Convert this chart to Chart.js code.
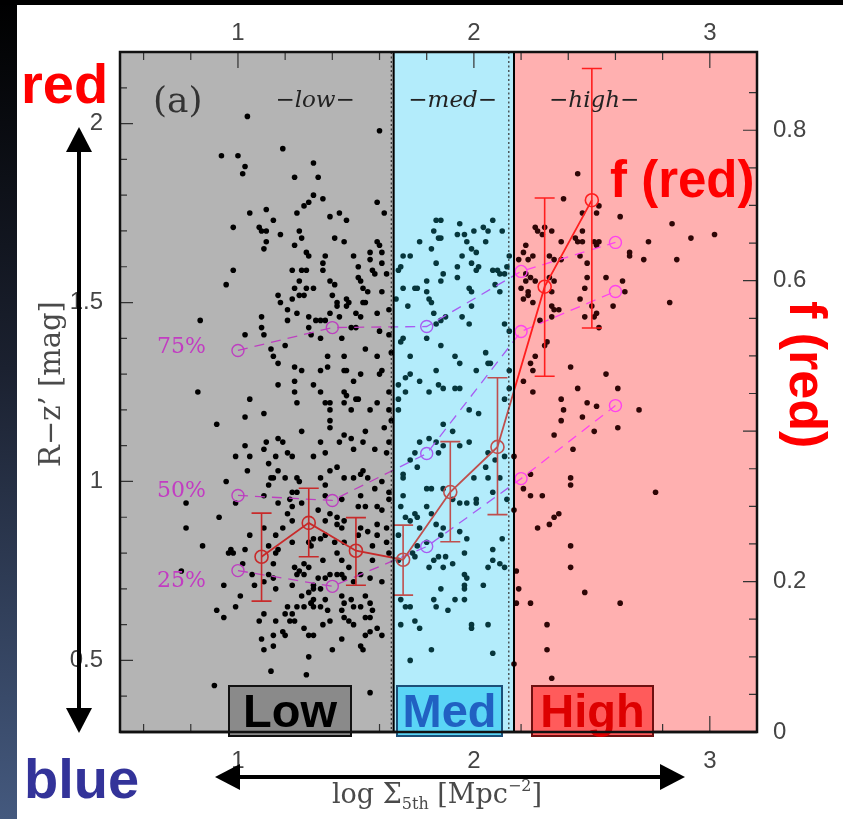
<!DOCTYPE html>
<html>
<head>
<meta charset="utf-8">
<script src="https://cdn.jsdelivr.net/npm/chart.js@4.4.1/dist/chart.umd.min.js"></script>
<style>
  html, body { margin: 0; padding: 0; background: #fff; }
  #app { display: block; }
</style>
</head>
<body>
<canvas id="app" width="843" height="819"></canvas>
<script>
// galaxies: [log Sigma_5th, R-z'], split by density bin
const lowGalaxies = [
  [1.04,2.02],[1.60,1.98],
  [0.93,1.91],[1.00,1.91],[1.19,1.93],[1.03,1.88],[1.02,1.86],[1.32,1.89],[1.24,1.85],[1.32,1.80],[1.30,1.78],[1.28,1.77],
  [1.25,1.75],[1.05,1.75],[1.12,1.76],[1.15,1.73],[0.98,1.71],[1.09,1.71],[1.10,1.70],[1.12,1.70],[1.12,1.67],[1.11,1.65],
  [1.18,1.69],[1.24,1.66],[1.26,1.70],[1.27,1.68],[1.29,1.64],[1.30,1.63],[0.98,1.59],[0.95,1.55],[1.23,1.59],[1.27,1.59],
  [1.29,1.59],[1.26,1.56],[1.24,1.54],[1.29,1.54],[1.32,1.54],[1.17,1.52],[1.18,1.50],[1.23,1.51],[1.26,1.52],[1.28,1.52],
  [1.21,1.48],[1.25,1.47],[1.21,1.45],[1.10,1.46],[1.10,1.43],[1.11,1.41],[1.30,1.46],[1.30,1.43],[1.31,1.41],[0.84,1.45],
  [1.03,1.41],[1.14,1.37],[1.15,1.35],[1.20,1.38],[1.17,1.33],[1.17,1.27],[1.24,1.32],[1.27,1.31],[1.24,1.28],[1.24,1.25],
  [1.25,1.22],[1.32,1.27],[0.83,1.25],[1.05,1.23],[1.11,1.19],[1.03,1.18],[0.91,1.16],
  [1.34,1.85],[1.36,1.79],[1.59,1.78],[1.62,1.75],[1.39,1.74],[1.43,1.75],[1.46,1.73],[1.41,1.68],[1.45,1.67],[1.59,1.67],
  [1.60,1.66],[1.49,1.63],[1.56,1.64],[1.61,1.64],[1.37,1.63],[1.36,1.61],[1.36,1.59],[1.51,1.60],[1.57,1.59],[1.58,1.58],
  [1.61,1.61],[1.56,1.62],[1.51,1.57],[1.52,1.56],[1.63,1.58],[1.39,1.56],[1.41,1.55],[1.40,1.52],[1.53,1.54],[1.55,1.53],
  [1.61,1.53],[1.46,1.51],[1.42,1.50],[1.42,1.49],[1.46,1.49],[1.47,1.50],[1.53,1.50],[1.54,1.50],[1.59,1.47],[1.64,1.48],
  [1.50,1.47],[1.52,1.46],[1.39,1.47],[1.43,1.46],[1.33,1.45],[1.35,1.45],[1.37,1.45],[1.48,1.43],[1.50,1.43],[1.44,1.40],
  [1.35,1.40],[1.64,1.41],[1.54,1.37],[1.60,1.42],[1.38,1.35],[1.45,1.35],[1.59,1.35],[1.65,1.36],[1.38,1.32],[1.35,1.31],
  [1.45,1.31],[1.46,1.31],[1.52,1.30],[1.61,1.31],[1.60,1.30],[1.49,1.28],[1.35,1.25],[1.45,1.25],[1.46,1.24],[1.64,1.25],
  [1.45,1.22],[1.50,1.23],[1.51,1.23],[1.37,1.22],[1.39,1.22],[1.39,1.20],[1.48,1.20],[1.56,1.20],[1.59,1.22],[1.64,1.20],
  [1.39,1.17],[1.65,1.17],
  [1.27,1.14],[1.17,1.12],[1.19,1.11],[1.12,1.11],[1.03,1.10],[1.11,1.09],[1.16,1.07],[1.21,1.08],[1.23,1.07],[0.99,1.07],
  [1.05,1.07],[1.13,1.05],[1.32,1.07],[1.04,1.03],[1.17,1.03],[1.15,1.01],[1.14,1.01],[1.20,1.01],[1.25,1.01],[1.26,1.00],
  [1.13,0.99],[0.95,1.00],[1.23,0.97],[1.25,0.97],[1.11,0.96],[1.22,0.95],[1.27,0.94],[1.23,0.93],[0.99,0.94],[0.78,0.94],
  [0.92,0.90],[1.17,0.94],[1.21,0.91],[1.23,0.89],[0.78,0.87],[1.11,0.87],[1.16,0.85],[1.19,0.87],[1.23,0.83],[1.05,0.85],
  [0.85,0.82],[0.97,0.81],[0.96,0.80],[0.98,0.80],[1.03,0.81],[1.13,0.82],[1.16,0.80],[1.17,0.81],[1.30,0.83],[1.32,0.84],
  [1.02,0.77],[1.06,0.74],[1.15,0.77],[1.13,0.74],[1.15,0.73],[1.16,0.70],[1.07,0.71],[1.11,0.72],[1.24,0.76],[1.26,0.75],
  [1.28,0.77],[1.30,0.76],[1.25,0.74],[1.28,0.74],[1.32,0.71],[1.23,0.71],[1.27,0.68],[1.30,0.69],[1.32,0.67],[1.31,0.66],
  [1.28,0.65],[1.25,0.65],[0.94,0.71],[1.01,0.68],[0.99,0.65],[0.91,0.64],[0.94,0.62],[1.09,0.61],[1.11,0.63],[1.21,0.65],
  [1.20,0.63],[1.22,0.61],[1.24,0.61],[1.23,0.63],[1.16,0.61],[1.28,0.59],[1.30,0.57],[1.10,0.56],[1.15,0.57],[1.19,0.58],
  [1.20,0.57],[1.15,0.54],[1.11,0.53],[1.30,0.51],[1.14,0.47],[1.29,0.46],[0.90,0.43],[0.76,0.75],
  [1.39,1.15],[1.45,1.13],[1.54,1.14],[1.62,1.15],[1.35,1.11],[1.43,1.11],[1.48,1.12],[1.53,1.11],[1.64,1.11],[1.37,1.08],
  [1.49,1.09],[1.58,1.09],[1.63,1.08],[1.42,1.04],[1.39,1.03],[1.53,1.03],[1.52,1.02],[1.55,1.01],[1.49,1.01],[1.45,1.01],
  [1.35,1.01],[1.61,1.00],[1.64,0.97],[1.37,0.99],[1.58,0.98],[1.37,0.96],[1.44,0.95],[1.52,0.96],[1.51,0.93],[1.54,0.93],
  [1.59,0.93],[1.61,0.92],[1.34,0.92],[1.39,0.91],[1.42,0.90],[1.64,0.95],[1.37,0.89],[1.45,0.89],[1.59,0.88],[1.42,0.88],
  [1.52,0.87],[1.63,0.87],[1.44,0.87],[1.55,0.86],[1.37,0.85],[1.35,0.84],[1.41,0.83],[1.45,0.83],[1.42,0.80],[1.51,0.85],
  [1.59,0.85],[1.57,0.82],[1.63,0.83],[1.64,0.80],[1.31,0.82],[1.36,0.78],[1.44,0.78],[1.47,0.76],[1.57,0.78],[1.44,0.74],
  [1.42,0.74],[1.34,0.73],[1.37,0.73],[1.39,0.74],[1.45,0.73],[1.49,0.72],[1.56,0.73],[1.61,0.72],[1.52,0.74],[1.32,0.70],
  [1.35,0.70],[1.37,0.67],[1.31,0.66],[1.32,0.65],[1.35,0.65],[1.44,0.68],[1.45,0.66],[1.48,0.67],[1.54,0.68],[1.56,0.66],
  [1.57,0.64],[1.44,0.64],[1.45,0.62],[1.47,0.61],[1.49,0.65],[1.52,0.65],[1.54,0.62],[1.56,0.62],[1.38,0.64],[1.39,0.61],
  [1.36,0.60],[1.59,0.59],[1.56,0.58],[1.61,0.57],[1.54,0.57],[1.52,0.54],[1.53,0.53],[1.44,0.56],[1.32,0.57],[1.40,0.53],
  [1.56,0.41],[1.49,0.60]
]
const medGalaxies = [
  [1.84,1.73],[1.86,1.73],[1.83,1.70],[1.85,1.68],[1.86,1.68],[1.77,1.67],[1.82,1.65],[1.70,1.63],[1.73,1.63],[1.69,1.60],
  [1.68,1.59],[1.84,1.61],[1.87,1.58],[1.86,1.56],[1.80,1.56],[1.70,1.54],[1.75,1.54],[1.76,1.54],[1.80,1.53],[1.81,1.51],
  [1.82,1.50],[1.83,1.47],[1.72,1.49],[1.67,1.51],[1.88,1.46],[1.86,1.45],[1.84,1.44],[1.80,1.40],[1.70,1.40],[1.69,1.39],
  [1.86,1.38],[1.73,1.35],[1.73,1.30],[1.71,1.29],[1.77,1.28],[1.84,1.31],[1.85,1.27],[1.87,1.26],[1.68,1.27],[1.71,1.25],
  [1.81,1.25],[1.68,1.23],[1.68,1.20],[1.87,1.16],
  [1.94,1.72],[1.93,1.69],[1.96,1.69],[1.97,1.67],[2.00,1.70],[2.04,1.71],[2.06,1.70],[2.05,1.67],[2.08,1.73],[2.12,1.70],
  [1.99,1.65],[2.01,1.64],[1.95,1.63],[1.99,1.61],[1.93,1.60],[1.93,1.57],[2.02,1.60],[2.01,1.59],[2.08,1.59],[2.10,1.59],
  [2.11,1.58],[2.13,1.58],[2.15,1.63],[2.14,1.60],[1.98,1.54],[1.99,1.53],[2.11,1.53],[2.09,1.55],[1.99,1.49],[1.95,1.46],
  [1.98,1.44],[2.13,1.44],[2.15,1.42],[1.92,1.35],[1.94,1.33],[2.05,1.36],[2.06,1.33],[2.07,1.33],[2.01,1.31],[2.15,1.31],
  [1.92,1.26],[1.94,1.26],[1.98,1.20],[2.02,1.19],[2.13,1.23],[2.15,1.26],
  [1.77,1.11],[1.81,1.12],[1.84,1.11],[1.87,1.10],[1.85,1.08],[1.75,1.08],[1.73,1.06],[1.76,1.04],[1.70,1.02],[1.70,1.01],
  [1.80,0.98],[1.82,0.98],[1.87,0.98],[1.70,0.96],[1.69,0.93],[1.75,0.91],[1.76,0.90],[1.80,0.93],[1.82,0.91],[1.71,0.90],
  [1.73,0.89],[1.77,0.87],[1.84,0.88],[1.87,0.87],[1.86,0.85],[1.68,0.85],[1.76,0.82],[1.80,0.83],[1.74,0.80],[1.75,0.79],
  [1.83,0.78],[1.85,0.79],[1.87,0.76],[1.81,0.76],[1.68,0.78],[1.86,0.70],[1.83,0.67],[1.84,0.65],[1.73,0.65],[1.71,0.65],
  [1.69,0.67],[1.75,0.61],[1.77,0.59],[1.69,0.60],[1.82,0.53],[1.73,0.50],
  [1.91,1.14],[1.94,1.10],[1.98,1.11],[2.06,1.08],[2.09,1.06],[2.13,1.07],[2.05,1.04],[2.00,1.01],[2.06,1.01],[2.11,1.01],
  [2.08,0.97],[2.14,0.95],[1.91,0.95],[1.94,0.94],[1.97,0.94],[2.01,0.95],[2.01,0.94],[1.94,0.86],[1.97,0.84],[1.96,0.80],
  [1.91,0.77],[2.08,0.81],[2.08,0.78],[2.06,0.76],[2.11,0.77],[2.13,0.76],[2.12,0.84],[1.96,0.74],[1.97,0.73],[1.96,0.71],
  [1.96,0.70],[2.04,0.71],[1.92,0.67],[1.96,0.67],[1.89,0.64],[2.06,0.60],[1.99,0.60],[1.99,0.59],[2.08,0.52],[1.88,0.79]
]
const highGalaxies = [
  [2.44,1.86],[2.38,1.79],[2.46,1.75],[2.26,1.71],[2.27,1.70],[2.30,1.71],[2.33,1.70],[2.29,1.69],[2.37,1.67],[2.43,1.68],
  [2.44,1.67],[2.46,1.67],[2.22,1.66],[2.21,1.64],[2.19,1.62],[2.23,1.62],[2.25,1.63],[2.32,1.63],[2.34,1.62],[2.37,1.62],
  [2.22,1.58],[2.24,1.57],[2.22,1.56],[2.26,1.56],[2.32,1.57],[2.34,1.56],[2.20,1.54],[2.23,1.53],[2.21,1.51],[2.23,1.52],
  [2.25,1.50],[2.33,1.53],[2.33,1.49],[2.34,1.48],[2.36,1.48],[2.28,1.45],[2.33,1.46],[2.31,1.39],[2.26,1.35],[2.24,1.33],
  [2.25,1.31],[2.30,1.38],[2.41,1.32],[2.21,1.28],[2.25,1.25],[2.37,1.23],[2.38,1.20],[2.44,1.26],[2.37,1.17],[2.46,1.18],
  [2.52,1.75],[2.53,1.77],[2.62,1.74],[2.46,1.70],[2.51,1.67],[2.53,1.67],[2.52,1.66],[2.48,1.61],[2.45,1.63],[2.48,1.57],
  [2.47,1.54],[2.56,1.57],[2.63,1.56],[2.64,1.53],[2.59,1.49],[2.45,1.51],[2.50,1.49],[2.47,1.46],[2.51,1.46],[2.52,1.47],
  [2.53,1.43],[2.66,1.64],[2.66,1.63],[2.74,1.67],[2.72,1.62],[2.84,1.72],[2.86,1.62],[2.92,1.68],[3.02,1.69],[2.83,1.50],
  [2.56,1.30],[2.61,1.26],[2.48,1.22],[2.52,1.21],[2.70,1.20],[2.61,1.15],
  [2.34,1.13],[2.42,1.09],[2.24,1.02],[2.41,1.01],[2.41,0.99],[2.21,0.98],[2.24,0.96],[2.29,0.96],[2.36,0.91],[2.34,0.90],
  [2.32,0.88],[2.27,0.87],[2.41,0.82],[2.41,0.76],[2.18,0.75],[2.19,0.70],[2.18,0.66],[2.24,0.66],[2.31,0.60],[2.31,0.53],
  [2.33,0.45],[2.17,0.92],[2.17,1.07],[2.17,0.49],
  [2.51,1.14],[2.77,0.97],[2.47,0.69],[2.62,0.66]
]

// colour percentiles (left axis)
const percentileX = [1.0, 1.4, 1.8, 2.2, 2.6]
const p75 = [1.366, 1.430, 1.433, 1.587, 1.668]
const p50 = [0.961, 0.947, 1.078, 1.419, 1.531]
const p25 = [0.751, 0.707, 0.818, 1.008, 1.212]
const percentileNames = ['75%', '50%', '25%']
const percentileLabelY = [1.374, 0.972, 0.721]

// red fraction with errors (right axis)
const fredX  = [1.1, 1.3, 1.5, 1.7, 1.9, 2.1, 2.3, 2.5]
const fred   = [0.233, 0.278, 0.241, 0.229, 0.319, 0.379, 0.592, 0.707]
const fredLo = [0.174, 0.233, 0.195, 0.182, 0.253, 0.289, 0.473, 0.537]
const fredHi = [0.291, 0.324, 0.285, 0.275, 0.386, 0.471, 0.710, 0.882]

// axes
const xTickLabels = [1, 2, 3]
const yTickLabels = [0.5, 1, 1.5, 2]
const fTickLabels = [0, 0.2, 0.4, 0.6, 0.8]
const lowEdge = 1.66
const highEdge = 2.17
const dottedEdges = [1.65, 2.148]

const regionFill = ['#b4b4b4', '#b3ecfb', '#ffb0b0']
const dotColors = ['#000000', '#06363c', '#2e0606']
const pctColors = ['#bd3fc0', '#a75cf2', '#ff42ee']
const redColors = ['#c82a2a', '#bf4f4e', '#ff1e1e']

function regionOf(x) {
  return x < lowEdge ? 0 : (x < highEdge ? 1 : 2)
}

function regionGradient(chart, colors) {
  const { ctx, chartArea, scales } = chart
  if (!chartArea) return colors[0]
  const w = chartArea.right - chartArea.left
  const s1 = (scales.x.getPixelForValue(lowEdge) - chartArea.left) / w
  const s2 = (scales.x.getPixelForValue(highEdge) - chartArea.left) / w
  const g = ctx.createLinearGradient(chartArea.left, 0, chartArea.right, 0)
  g.addColorStop(0, colors[0]); g.addColorStop(s1, colors[0])
  g.addColorStop(s1, colors[1]); g.addColorStop(s2, colors[1])
  g.addColorStop(s2, colors[2]); g.addColorStop(1, colors[2])
  return g
}

const toPoints = pairs => pairs.map(([x, y]) => ({ x, y }))
const zipX = (xs, ys) => xs.map((x, i) => ({ x, y: ys[i] }))

function percentileSet(values) {
  return {
    type: 'line',
    data: zipX(percentileX, values),
    yAxisID: 'y',
    order: 2,
    borderWidth: 1.3,
    borderDash: [10, 7],
    borderColor: c => regionGradient(c.chart, pctColors),
    pointRadius: 6,
    pointBorderWidth: 1.4,
    pointBackgroundColor: 'rgba(0,0,0,0)',
    pointBorderColor: c => pctColors[regionOf(c.raw ? c.raw.x : 1)],
    tension: 0
  }
}

function scatterSet(pairs, color) {
  return {
    type: 'scatter',
    data: toPoints(pairs),
    yAxisID: 'y',
    order: 3,
    pointRadius: 2.8,
    pointBorderWidth: 0,
    backgroundColor: color,
    borderColor: color
  }
}

const SERIF = '"DejaVu Serif", serif'
const SANS = '"Liberation Sans", Arial, sans-serif'

function drawArrow(ctx, x1, y1, x2, y2) {
  const ang = Math.atan2(y2 - y1, x2 - x1)
  const hl = 25, hw = 13
  const head = (tx, ty, a) => {
    ctx.beginPath()
    ctx.moveTo(tx, ty)
    ctx.lineTo(tx - hl * Math.cos(a) + hw * Math.sin(a), ty - hl * Math.sin(a) - hw * Math.cos(a))
    ctx.lineTo(tx - hl * Math.cos(a) - hw * Math.sin(a), ty - hl * Math.sin(a) + hw * Math.cos(a))
    ctx.closePath()
    ctx.fill()
  }
  ctx.beginPath()
  ctx.moveTo(x1 + (hl - 2) * Math.cos(ang), y1 + (hl - 2) * Math.sin(ang))
  ctx.lineTo(x2 - (hl - 2) * Math.cos(ang), y2 - (hl - 2) * Math.sin(ang))
  ctx.stroke()
  head(x2, y2, ang)
  head(x1, y1, ang + Math.PI)
}

function labelBox(ctx, x, y, w, h, fill, stroke, text, color) {
  ctx.fillStyle = fill
  ctx.fillRect(x, y, w, h)
  ctx.strokeStyle = stroke
  ctx.lineWidth = 2
  ctx.strokeRect(x, y, w, h)
  ctx.fillStyle = color
  ctx.font = 'bold 47px ' + SANS
  ctx.textAlign = 'center'
  ctx.textBaseline = 'alphabetic'
  ctx.fillText(text, x + w / 2, y + 41)
}

const decorations = {
  id: 'decorations',
  beforeDraw(chart) {
    const { ctx, width, height } = chart
    ctx.save()
    ctx.fillStyle = '#ffffff'
    ctx.fillRect(0, 0, width, height)
    const g = ctx.createLinearGradient(0, 0, 0, height)
    g.addColorStop(0, '#000000')
    g.addColorStop(0.45, '#1b2130')
    g.addColorStop(1, '#44597e')
    ctx.fillStyle = g
    ctx.fillRect(0, 0, 17, height)
    ctx.fillStyle = '#000000'
    ctx.fillRect(0, 0, width, 5)
    ctx.restore()
  },
  beforeDatasetsDraw(chart) {
    const { ctx, chartArea: a, scales } = chart
    const xs = scales.x, ys = scales.y
    const b1 = xs.getPixelForValue(lowEdge), b2 = xs.getPixelForValue(highEdge)
    ctx.save()
    ctx.fillStyle = regionFill[0]; ctx.fillRect(a.left, a.top, b1 - a.left, a.bottom - a.top)
    ctx.fillStyle = regionFill[1]; ctx.fillRect(b1, a.top, b2 - b1, a.bottom - a.top)
    ctx.fillStyle = regionFill[2]; ctx.fillRect(b2, a.top, a.right - b2, a.bottom - a.top)

    ctx.fillStyle = '#333'
    ctx.font = '36px ' + SERIF
    ctx.textAlign = 'left'
    ctx.textBaseline = 'alphabetic'
    ctx.fillText('(a)', 153, 112)

    ctx.fillStyle = '#222'
    ctx.font = 'italic 23px ' + SERIF
    ctx.textAlign = 'center'
    const ty = ys.getPixelForValue(2.07) + 8
    ctx.fillText('\u2212low\u2212', xs.getPixelForValue(1.327), ty)
    ctx.fillText('\u2212med\u2212', xs.getPixelForValue(1.91), ty)
    ctx.fillText('\u2212high\u2212', xs.getPixelForValue(2.51), ty)
    ctx.restore()
  },
  afterDatasetsDraw(chart) {
    const { ctx, chartArea: a, scales } = chart
    const xs = scales.x, ys = scales.y, fs = scales.yR
    ctx.save()

    // error bars on f(red)
    ctx.lineWidth = 1.6
    fredX.forEach((x, i) => {
      const px = xs.getPixelForValue(x)
      const t = fs.getPixelForValue(fredHi[i]), b = fs.getPixelForValue(fredLo[i])
      ctx.strokeStyle = redColors[regionOf(x)]
      ctx.beginPath()
      ctx.moveTo(px, t); ctx.lineTo(px, b)
      ctx.moveTo(px - 10, t); ctx.lineTo(px + 10, t)
      ctx.moveTo(px - 10, b); ctx.lineTo(px + 10, b)
      ctx.stroke()
    })

    // bin boundaries
    ctx.strokeStyle = '#333'
    ctx.lineWidth = 1.2
    ctx.setLineDash([2, 2.5])
    dottedEdges.forEach(v => {
      const px = xs.getPixelForValue(v)
      ctx.beginPath(); ctx.moveTo(px, a.top); ctx.lineTo(px, a.bottom); ctx.stroke()
    })
    ctx.setLineDash([])
    ctx.strokeStyle = '#000'
    ctx.lineWidth = 2
    ;[lowEdge, highEdge].forEach(v => {
      const px = xs.getPixelForValue(v)
      ctx.beginPath(); ctx.moveTo(px, a.top); ctx.lineTo(px, a.bottom); ctx.stroke()
    })

    // inward tick marks
    ctx.strokeStyle = '#333'
    ctx.lineWidth = 1.2
    ctx.beginPath()
    for (let i = 3; i <= 15; i++) {
      const px = xs.getPixelForValue(i * 0.2)
      const len = i % 5 === 0 ? 16 : 8
      ctx.moveTo(px, a.bottom); ctx.lineTo(px, a.bottom - len)
      ctx.moveTo(px, a.top); ctx.lineTo(px, a.top + len)
    }
    for (let i = 4; i <= 21; i++) {
      const py = ys.getPixelForValue(i / 10)
      const len = i % 5 === 0 ? 13 : 7
      ctx.moveTo(a.left, py); ctx.lineTo(a.left + len, py)
    }
    for (let i = 1; i <= 17; i++) {
      const py = fs.getPixelForValue(i * 0.05)
      const len = i % 4 === 0 ? 14 : 8
      ctx.moveTo(a.right, py); ctx.lineTo(a.right - len, py)
    }
    ctx.stroke()

    // frame
    ctx.strokeStyle = '#111'
    ctx.lineWidth = 2.5
    ctx.strokeRect(a.left, a.top, a.right - a.left, a.bottom - a.top)

    // percentile labels
    ctx.fillStyle = '#c23cc2'
    ctx.font = '22px ' + SERIF
    ctx.textAlign = 'right'
    ctx.textBaseline = 'middle'
    percentileNames.forEach((name, i) => {
      ctx.fillText(name, xs.getPixelForValue(percentileX[0]) - 32, ys.getPixelForValue(percentileLabelY[i]))
    })

    // bin boxes
    labelBox(ctx, 229, 686, 122, 50, '#8a8a8a', '#111', 'Low', '#000')
    labelBox(ctx, 397, 686, 105, 50, '#5ad5f6', '#1b4f78', 'Med', '#2161c2')
    labelBox(ctx, 532, 686, 121, 50, '#ff5b5b', '#6e1010', 'High', '#dd0000')
    // redraw bottom frame over boxes
    ctx.strokeStyle = '#111'
    ctx.lineWidth = 2.5
    ctx.beginPath(); ctx.moveTo(a.left, a.bottom); ctx.lineTo(a.right, a.bottom); ctx.stroke()
    ctx.restore()
  },
  afterDraw(chart) {
    const { ctx } = chart
    ctx.save()
    ctx.textAlign = 'left'
    ctx.textBaseline = 'alphabetic'

    // big annotations
    ctx.fillStyle = '#ff0000'
    ctx.font = 'bold 56px ' + SANS
    ctx.fillText('red', 21, 103)
    ctx.fillStyle = '#333399'
    ctx.fillText('blue', 24, 798)
    ctx.fillStyle = '#ff0000'
    ctx.font = 'bold 51px ' + SANS
    ctx.fillText('f (red)', 610, 197)
    ctx.save()
    ctx.translate(790, 301)
    ctx.rotate(Math.PI / 2)
    ctx.font = 'bold 52px ' + SANS
    ctx.fillText('f (red)', 0, 0)
    ctx.restore()

    // arrows
    ctx.fillStyle = '#000'
    ctx.strokeStyle = '#000'
    ctx.lineWidth = 4
    drawArrow(ctx, 79, 127, 79, 733)
    drawArrow(ctx, 215, 777, 685, 777)

    // axis titles
    ctx.fillStyle = '#4a4a4a'
    ctx.save()
    ctx.translate(60, 384)
    ctx.rotate(-Math.PI / 2)
    ctx.textAlign = 'center'
    ctx.font = '29px ' + SERIF
    ctx.fillText('R\u2212z\u2019 [mag]', 0, 0)
    ctx.restore()

    const big = '27px ' + SERIF, small = '16px ' + SERIF
    const parts = [
      ['log \u03a3', big, 0],
      ['5th', small, 6],
      [' [Mpc', big, 0],
      ['\u22122', small, -12],
      [']', big, 0]
    ]
    let total = 0
    parts.forEach(p => { ctx.font = p[1]; total += ctx.measureText(p[0]).width })
    let x = 437 - total / 2
    parts.forEach(p => {
      ctx.font = p[1]
      ctx.fillText(p[0], x, 803 + p[2])
      x += ctx.measureText(p[0]).width
    })
    ctx.restore()
  }
}

const tickFont = { family: SANS, size: 24 }
const tickColor = '#444'

new Chart(document.getElementById('app'), {
  data: {
    datasets: [
      {
        type: 'line',
        data: zipX(fredX, fred),
        yAxisID: 'yR',
        order: 1,
        borderWidth: 1.8,
        borderColor: c => regionGradient(c.chart, redColors),
        pointRadius: 6.5,
        pointBorderWidth: 1.6,
        pointBackgroundColor: 'rgba(0,0,0,0)',
        pointBorderColor: c => redColors[regionOf(c.raw ? c.raw.x : 1)],
        tension: 0
      },
      percentileSet(p75),
      percentileSet(p50),
      percentileSet(p25),
      scatterSet(lowGalaxies, dotColors[0]),
      scatterSet(medGalaxies, dotColors[1]),
      scatterSet(highGalaxies, dotColors[2])
    ]
  },
  options: {
    responsive: false,
    animation: false,
    events: [],
    layout: { padding: 0 },
    plugins: { legend: { display: false }, tooltip: { enabled: false } },
    scales: {
      x: {
        type: 'linear', position: 'bottom', min: 0.5, max: 3.2,
        afterBuildTicks: s => { s.ticks = xTickLabels.map(v => ({ value: v })) },
        afterFit: s => { s.height = 87 },
        grid: { display: false, drawTicks: false }, border: { display: false },
        ticks: { padding: 15, font: tickFont, color: tickColor, maxRotation: 0, autoSkip: false, callback: v => String(v) }
      },
      xTop: {
        type: 'linear', position: 'top', min: 0.5, max: 3.2,
        afterBuildTicks: s => { s.ticks = xTickLabels.map(v => ({ value: v })) },
        afterFit: s => { s.height = 52 },
        grid: { display: false, drawTicks: false }, border: { display: false },
        ticks: { padding: 4, font: tickFont, color: tickColor, maxRotation: 0, autoSkip: false, callback: v => String(v) }
      },
      y: {
        type: 'linear', position: 'left', min: 0.3, max: 2.2,
        afterBuildTicks: s => { s.ticks = yTickLabels.map(v => ({ value: v })) },
        afterFit: s => { s.width = 120 },
        grid: { display: false, drawTicks: false }, border: { display: false },
        ticks: { padding: 17, font: tickFont, color: tickColor, autoSkip: false, callback: v => String(v) }
      },
      yR: {
        type: 'linear', position: 'right', min: 0, max: 0.904,
        afterBuildTicks: s => { s.ticks = fTickLabels.map(v => ({ value: v })) },
        afterFit: s => { s.width = 86 },
        grid: { display: false, drawTicks: false }, border: { display: false },
        ticks: { padding: 16, font: tickFont, color: tickColor, autoSkip: false, callback: v => (v === 0.4 ? '' : String(v)) }
      }
    }
  },
  plugins: [decorations]
})
</script>
</body>
</html>
